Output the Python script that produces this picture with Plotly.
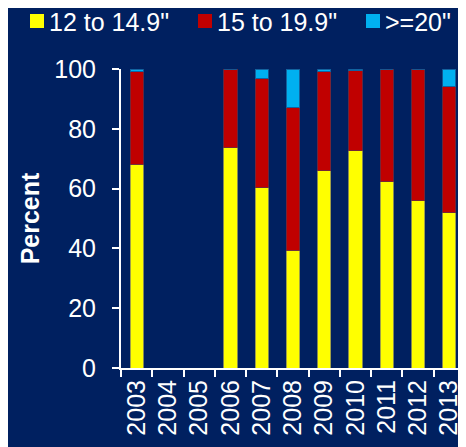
import plotly.graph_objects as go

years = ["2003", "2004", "2005", "2006", "2007", "2008", "2009", "2010", "2011", "2012", "2013"]
small = [68.1, None, None, 73.6, 60.3, 39.4, 65.9, 72.7, 62.3, 55.9, 51.9]
medium = [30.9, None, None, 26.4, 36.5, 47.6, 33.1, 26.7, 37.7, 44.1, 42.1]
large = [1.0, None, None, 0.0, 3.2, 13.0, 1.0, 0.6, 0.0, 0.0, 6.0]

series_names = ['12 to 14.9"', '15 to 19.9"', '>=20"']
colors = ["#FFFF00", "#C00000", "#00B0F0"]
outlines = ["rgba(150,150,80,0.9)", "rgba(110,40,60,0.9)", "rgba(20,90,150,0.9)"]

BG = "#002060"
FONT = "Arial, Liberation Sans, sans-serif"

# figure is placed by the page 8px from the top-left corner
W, H = 458, 439
ML, MR, MT, MB = 113, 1, 61, 79
PW, PH = W - ML - MR, H - MT - MB


def px_x(fx):
    return (fx - ML) / PW


def px_y(fy):
    return (H - MB - fy) / PH


fig = go.Figure()
for name, vals, c, oc in zip(series_names, [small, medium, large], colors, outlines):
    fig.add_trace(go.Bar(x=years, y=vals, name=name, showlegend=False,
                         marker=dict(color=c, line=dict(color=oc, width=1))))

# custom legend (swatches + labels) at the top
legend_x = [22, 190, 358]
for lx, name, c in zip(legend_x, series_names, colors):
    fig.add_shape(type="rect", xref="paper", yref="paper",
                  x0=px_x(lx), x1=px_x(lx + 14), y0=px_y(20), y1=px_y(6),
                  fillcolor=c, line=dict(width=0), layer="above")
    fig.add_annotation(xref="paper", yref="paper", x=px_x(lx + 19), y=px_y(0),
                       xanchor="left", yanchor="top", showarrow=False,
                       borderpad=0, borderwidth=0,
                       text=name, font=dict(size=25, color="white", family=FONT))

fig.update_layout(
    width=W, height=H,
    barmode="stack", bargap=0.58,
    paper_bgcolor=BG, plot_bgcolor=BG,
    font=dict(family=FONT, color="white", size=25),
    margin=dict(l=ML, r=MR, t=MT, b=MB, autoexpand=False),
    showlegend=False,
    xaxis=dict(type="category", showgrid=False, showline=True, linecolor="white",
               linewidth=2, ticks="outside", ticklen=7, tickwidth=2,
               tickcolor="white", tickson="boundaries", tickangle=-90,
               automargin=False,
               tickfont=dict(size=25, color="white"), range=[-0.5, 10.5]),
    yaxis=dict(range=[0, 100], dtick=20, showgrid=False, zeroline=False,
               showline=True, linecolor="white", linewidth=2,
               ticks="outside", ticklen=7, tickwidth=2, tickcolor="white",
               ticklabelstandoff=11, automargin=False,
               tickfont=dict(size=25, color="white"),
               title=dict(text="<b>Percent</b>", font=dict(size=25, color="white"), standoff=8)),
)

fig.write_html("out.html")
